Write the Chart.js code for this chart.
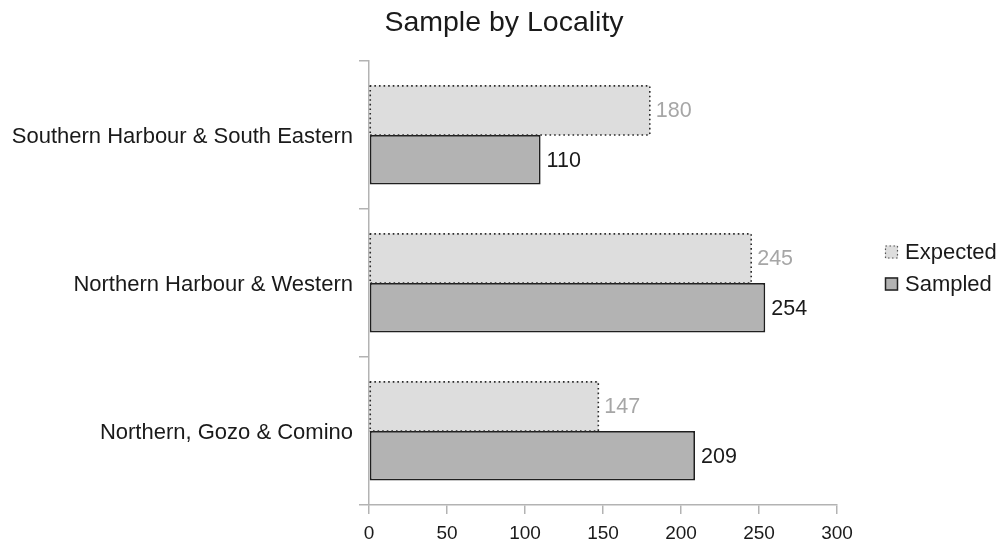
<!DOCTYPE html>
<html>
<head>
<meta charset="utf-8">
<title>Sample by Locality</title>
<script src="https://cdn.jsdelivr.net/npm/chart.js@4/dist/chart.umd.min.js"></script>
<style>
  html, body { margin: 0; padding: 0; background: #ffffff; }
  #wrap { width: 1000px; height: 543px; position: relative; }
</style>
</head>
<body>
<div id="wrap"><canvas id="chart" width="1000" height="543"></canvas></div>
<script>
// Localities, top to bottom
const localities = [
  'Southern Harbour & South Eastern',
  'Northern Harbour & Western',
  'Northern, Gozo & Comino'
];
// Respondents per locality
const expectedCounts = [180, 245, 147];
const sampledCounts = [110, 254, 209];
const xTicks = [0, 50, 100, 150, 200, 250, 300];
const chartTitle = 'Sample by Locality';

const FONT = '"Liberation Sans", Arial, sans-serif';
const AXIS_GREY = '#b3b3b3';
const TEXT = '#1a1a1a';

// Title centred on the page
const pageTitle = {
  id: 'pageTitle',
  afterDraw(chart) {
    const ctx = chart.ctx;
    ctx.save();
    ctx.font = '28.5px ' + FONT;
    ctx.fillStyle = TEXT;
    ctx.textAlign = 'center';
    ctx.textBaseline = 'middle';
    ctx.fillText(chartTitle, 504, 23);
    ctx.restore();
  }
};

// Dotted outline for the "Expected" bars (bar elements have no dash option)
const dottedBorders = {
  id: 'dottedBorders',
  afterDatasetDraw(chart, args) {
    const ds = chart.data.datasets[args.index];
    if (!ds.dotted) return;
    const ctx = chart.ctx;
    ctx.save();
    ctx.strokeStyle = '#2a2a2a';
    ctx.lineWidth = 1.6;
    ctx.setLineDash([1.6, 3]);
    args.meta.data.forEach(bar => {
      const p = bar.getProps(['x', 'y', 'base', 'height'], true);
      const top = p.y - p.height / 2, bottom = p.y + p.height / 2;
      ctx.beginPath();
      ctx.moveTo(p.base, top + 0.5);
      ctx.lineTo(p.x, top + 0.5);
      ctx.lineTo(p.x, bottom);
      ctx.lineTo(p.base, bottom);
      ctx.moveTo(p.base + 0.5, top);
      ctx.lineTo(p.base + 0.5, bottom);
      ctx.stroke();
    });
    ctx.restore();
  }
};

// Value labels at the end of each bar
const valueLabels = {
  id: 'valueLabels',
  afterDatasetsDraw(chart) {
    const ctx = chart.ctx;
    ctx.save();
    ctx.font = '21.5px ' + FONT;
    ctx.textAlign = 'left';
    ctx.textBaseline = 'middle';
    chart.data.datasets.forEach((ds, i) => {
      const meta = chart.getDatasetMeta(i);
      ctx.fillStyle = ds.labelColor;
      meta.data.forEach((bar, j) => {
        const p = bar.getProps(['x', 'y'], true);
        ctx.fillText(String(ds.data[j]), p.x + 6, p.y + 1);
      });
    });
    ctx.restore();
  }
};

// Legend on the right-hand side
const sideLegend = {
  id: 'sideLegend',
  afterDraw(chart) {
    const ctx = chart.ctx;
    const x0 = 885, rows = [252, 284], box = 13;
    ctx.save();
    ctx.font = '22px ' + FONT;
    ctx.textBaseline = 'middle';
    ctx.textAlign = 'left';
    chart.data.datasets.forEach((ds, i) => {
      const cy = rows[i];
      const top = cy - box / 2;
      ctx.fillStyle = ds.backgroundColor;
      ctx.fillRect(x0, top, box, box);
      ctx.lineWidth = ds.dotted ? 1.2 : 1.5;
      ctx.strokeStyle = ds.dotted ? '#555555' : '#222222';
      ctx.setLineDash(ds.dotted ? [1.5, 2.5] : []);
      ctx.strokeRect(x0 + 0.5, top + 0.5, box - 1, box - 1);
      ctx.setLineDash([]);
      ctx.fillStyle = TEXT;
      ctx.fillText(ds.label, x0 + 20, cy + 1);
    });
    ctx.restore();
  }
};

new Chart(document.getElementById('chart'), {
  type: 'bar',
  data: {
    labels: localities,
    datasets: [
      {
        label: 'Expected',
        data: expectedCounts,
        backgroundColor: '#dddddd',
        borderWidth: 0,
        dotted: true,
        labelColor: '#a6a6a6'
      },
      {
        label: 'Sampled',
        data: sampledCounts,
        backgroundColor: '#b3b3b3',
        borderColor: '#1f1f1f',
        borderWidth: 1.8,
        borderSkipped: false,
        dotted: false,
        labelColor: TEXT
      }
    ]
  },
  options: {
    indexAxis: 'y',
    responsive: false,
    animation: false,
    devicePixelRatio: 1,
    categoryPercentage: 0.67,
    barPercentage: 1.0,
    layout: { padding: { left: 0, right: 163, top: 61, bottom: 0 } },
    plugins: {
      legend: { display: false },
      tooltip: { enabled: false },
      title: { display: false }
    },
    scales: {
      x: {
        type: 'linear',
        min: 0,
        max: 300,
        afterBuildTicks(scale) { scale.ticks = xTicks.map(v => ({ value: v })); },
        afterFit(scale) { scale.height = 38; },
        border: { display: true, color: AXIS_GREY, width: 1.5 },
        grid: { display: true, drawOnChartArea: false, drawTicks: true, tickLength: 9, color: AXIS_GREY, lineWidth: 1.5 },
        ticks: { color: TEXT, padding: 8, font: { family: FONT, size: 19 }, maxRotation: 0 }
      },
      y: {
        type: 'category',
        offset: true,
        afterFit(scale) { scale.width = 369; },
        border: { display: true, color: AXIS_GREY, width: 1.5 },
        grid: { display: true, offset: true, drawOnChartArea: false, drawTicks: true, tickLength: 10, color: AXIS_GREY, lineWidth: 1.5 },
        ticks: { color: TEXT, padding: 6, labelOffset: 2, font: { family: FONT, size: 22 } }
      }
    }
  },
  plugins: [dottedBorders, valueLabels, sideLegend, pageTitle]
});
</script>
</body>
</html>
